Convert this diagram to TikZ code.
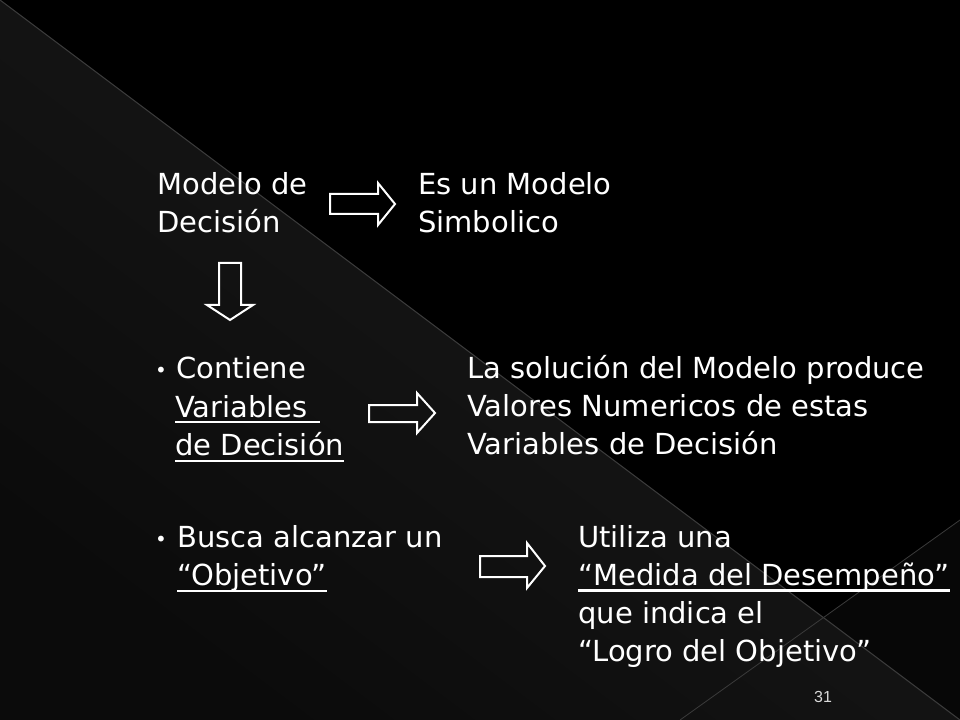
\documentclass[tikz,border=0pt]{standalone}
\usepackage{fontspec}
\setmainfont{DejaVu Sans}
\newfontfamily\numfont{Liberation Sans}
\usetikzlibrary{calc}
\definecolor{lowlight}{HTML}{1C1C1C}
\definecolor{lowdark}{HTML}{0B0B0B}
\definecolor{edgegray}{HTML}{3A3A3A}
\definecolor{rightdark}{HTML}{070707}
\definecolor{pagegray}{HTML}{D9D9D9}
\begin{document}
\begin{tikzpicture}[x=0.75pt,y=-0.75pt,
  txt/.style={text=white, font=\fontsize{21.75pt}{28.5pt}\selectfont, inner sep=0pt, anchor=base west},
  bul/.style={text=white, font=\fontsize{15pt}{18pt}\selectfont, inner sep=0pt, anchor=base},
  num/.style={text=pagegray, font=\numfont\fontsize{12pt}{14pt}\selectfont, inner sep=0pt, anchor=center},
  blockarrow/.style={draw=white, line width=1.5pt, line join=miter},
  uline/.style={white, line width=1.6pt}]
\useasboundingbox (0,0) rectangle (960,720);
% background
\fill[black] (0,0) rectangle (960,720);
\shade[top color=lowlight, bottom color=lowdark, shading angle=-37] (0,0) -- (960,720) -- (0,720) -- cycle;
\fill[rightdark] (823.5,617.6) -- (960,520) -- (960,720) -- cycle;
\draw[edgegray, line width=0.8pt] (0,0) -- (960,720);
\draw[edgegray, line width=0.6pt] (960,520) -- (680,720);
% row 1
\node[txt] (m1) at (157,195) {Modelo de};
\node[txt] (m2) at (157,233) {Decisión};
\node[txt] (e1) at (418,195) {Es un Modelo};
\node[txt] (e2) at (418,233) {Simbolico};
\draw[blockarrow] (330,194) -- (378,194) -- (378,183) -- (395,204) -- (378,225) -- (378,214) -- (330,214) -- cycle;
\draw[blockarrow] (219,263) -- (241,263) -- (241,305) -- (253,305) -- (230,320) -- (207,305) -- (219,305) -- cycle;
% row 2
\node[bul] (b1) at (161,377) {•};
\node[txt] (c1) at (176,378) {Contiene};
\node[txt] (c2) at (175,417) {Variables\hspace{9pt}\mbox{}};
\node[txt] (c3) at (175,455) {de Decisión};
\node[txt] (l1) at (467,378) {La solución del Modelo produce};
\node[txt] (l2) at (467,416) {Valores Numericos de estas};
\node[txt] (l3) at (467,454) {Variables de Decisión};
\draw[uline] ($(c2.base west)+(0,5)$) -- ($(c2.base east)+(0,5)$);
\draw[uline] ($(c3.base west)+(0,6)$) -- ($(c3.base east)+(0,6)$);
\draw[blockarrow] (369,405) -- (417,405) -- (417,393) -- (435,413) -- (417,433) -- (417,422) -- (369,422) -- cycle;
% row 3
\node[bul] (b2) at (161,546) {•};
\node[txt] (o1) at (177,547) {Busca alcanzar un};
\node[txt] (o2) at (177,585) {“Objetivo”};
\node[txt] (u1) at (578,547) {Utiliza una};
\node[txt] (u2) at (578,585) {“Medida del Desempeño”};
\node[txt] (u3) at (578,623) {que indica el};
\node[txt] (u4) at (578,661) {“Logro del Objetivo”};
\draw[uline] ($(o2.base west)+(0,6)$) -- ($(o2.base east)+(0,6)$);
\draw[uline] ($(u2.base west)+(0,5.5)$) -- ($(u2.base east)+(0,5.5)$);
\draw[blockarrow] (480,556) -- (527,556) -- (527,543) -- (545,566) -- (527,588) -- (527,577) -- (480,577) -- cycle;
% page number
\node[num] (pg) at (823,697) {31};
\end{tikzpicture}
\end{document}
